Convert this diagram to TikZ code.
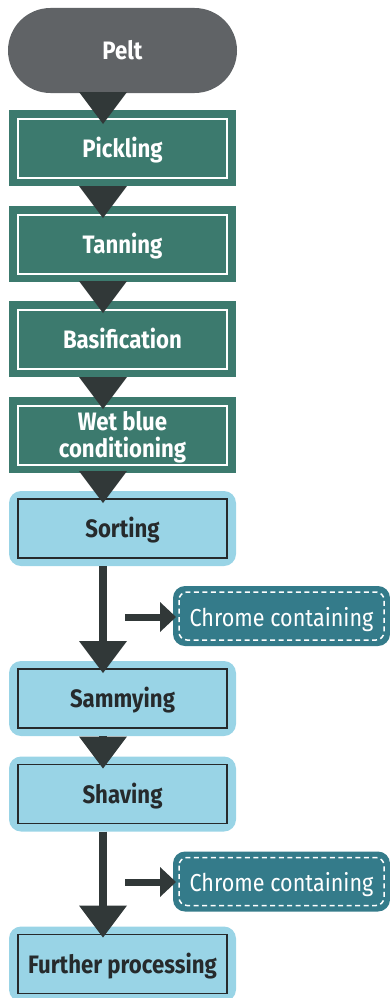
\documentclass[tikz,border=0pt]{standalone}
\usepackage{fontspec}
\setmainfont{Fira Sans}[FakeStretch=0.88]
\usetikzlibrary{arrows.meta,calc}
\definecolor{peltgray}{HTML}{606366}
\definecolor{greenc}{HTML}{3C7A6E}
\definecolor{darkc}{HTML}{313838}
\definecolor{lightblue}{HTML}{99D4E6}
\definecolor{tealc}{HTML}{347B8A}
\definecolor{darktext}{HTML}{262A2C}
\begin{document}
\begin{tikzpicture}[x=1pt,y=-1pt,
  every node/.style={inner sep=0pt, outer sep=0pt, align=center},
  bigfont/.style={font=\fontsize{25.2}{24}\selectfont\bfseries, text height=18pt, text depth=0pt},
  peltbox/.style={bigfont, fill=peltgray, rounded corners=42.5pt, minimum width=229pt, minimum height=85pt, text=white},
  greenbox/.style={bigfont, fill=greenc, minimum width=227pt, minimum height=76pt, text=white},
  bluebox/.style={bigfont, fill=lightblue, rounded corners=12pt, minimum width=227pt, minimum height=75pt, text=darktext},
  chromebox/.style={font=\fontsize{24.5}{24}\selectfont, text height=20pt, text depth=0pt, fill=tealc, rounded corners=12pt, minimum width=217pt, minimum height=60pt, text=white},
  innerwhite/.style={draw=white, line width=1.5pt},
  innerblack/.style={draw=darktext, line width=1.6pt},
  dashborder/.style={draw=white, line width=1.5pt, dash pattern=on 5pt off 3.5pt, rounded corners=8pt},
  flow/.style={draw=darkc, line width=8pt, -{Triangle[width=48pt,length=32pt,line width=0pt]}},
  side/.style={draw=darkc, line width=7pt, -{Triangle[width=30pt,length=16pt,line width=0pt]}},
]
\useasboundingbox (0,0) rectangle (390,998);
\coordinate (ax) at (103,0);

\node[peltbox] (pelt) at (122.5,50.5) {Pelt};
\node[greenbox] (pick) at (122.5,148) {Pickling};
\node[greenbox] (tan) at (122.5,244) {Tanning};
\node[greenbox] (bas) at (122.5,339) {Basification};
\node[greenbox, text height=0pt, text depth=0pt] (wet) at (122.5,435)
  {\raisebox{5pt}[0pt][0pt]{\begin{tabular}[t]{@{}c@{}}Wet blue\\conditioning\end{tabular}}};
\node[bluebox] (sort) at (122.5,528.5) {Sorting};
\node[bluebox] (samm) at (122.5,698.5) {Sammying};
\node[bluebox] (shav) at (122.5,794) {Shaving};
\node[bluebox] (furt) at (122.5,964) {Further processing};
\node[chromebox] (chr1) at (281.5,616) {Chrome containing};
\node[chromebox] (chr2) at (281.5,881.5) {Chrome containing};

\foreach \n in {pick,tan,bas,wet}
  \draw[innerwhite] ($(\n.north west)+(9,9)$) rectangle ($(\n.south east)+(-9,-8)$);
\foreach \n in {sort,samm,shav,furt}
  \draw[innerblack] ($(\n.north west)+(9,8)$) rectangle ($(\n.south east)+(-9,-8)$);
\foreach \n in {chr1,chr2}
  \draw[dashborder] ($(\n.north west)+(6,6)$) rectangle ($(\n.south east)+(-6,-6)$);

\draw[flow] (pelt.south -| ax) -- ($(pick.north -| ax)+(0,14)$);
\draw[flow] (pick.south -| ax) -- ($(tan.north -| ax)+(0,12)$);
\draw[flow] (tan.south -| ax) -- ($(bas.north -| ax)+(0,12)$);
\draw[flow] (bas.south -| ax) -- ($(wet.north -| ax)+(0,12)$);
\draw[flow] (wet.south -| ax) -- ($(sort.north -| ax)+(0,12)$);
\draw[flow] (sort.south -| ax) -- ($(samm.north -| ax)+(0,12)$);
\draw[flow] (samm.south -| ax) -- ($(shav.north -| ax)+(0,12)$);
\draw[flow] (shav.south -| ax) -- ($(furt.north -| ax)+(0,11)$);

\coordinate (s1) at (125,617);
\coordinate (s2) at (125,882);
\draw[side] (s1) -- ($(chr1.west |- s1)+(3,0)$);
\draw[side] (s2) -- ($(chr2.west |- s2)+(3,0)$);
\end{tikzpicture}
\end{document}
